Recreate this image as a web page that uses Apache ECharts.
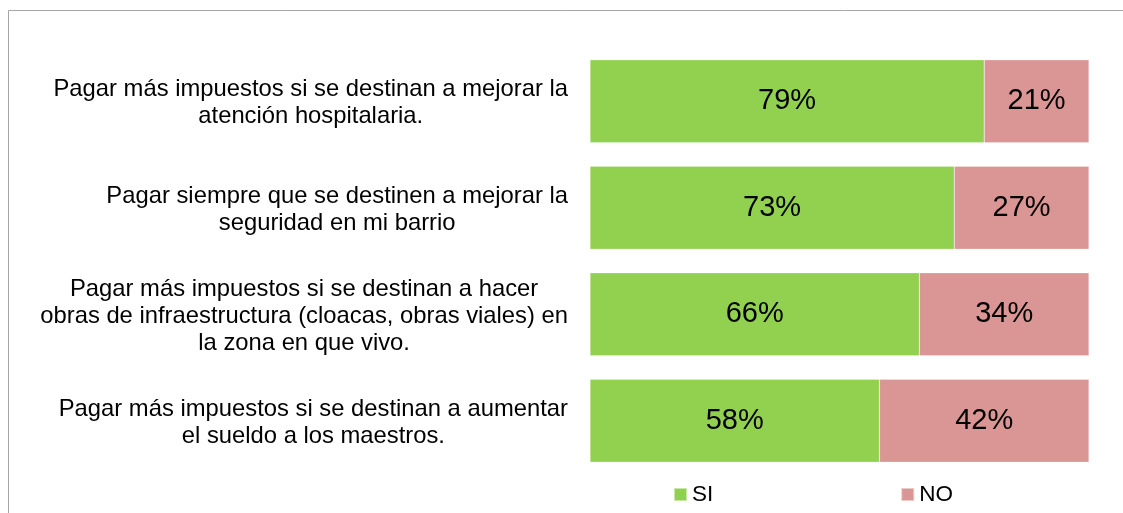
<!DOCTYPE html>
<html>
<head>
<meta charset="utf-8">
<script src="https://cdn.jsdelivr.net/npm/echarts@6/dist/echarts.min.js"></script>
<style>
  html, body { margin: 0; padding: 0; background: #fff; }
  #chart { width: 1123px; height: 513px; }
</style>
</head>
<body>
<div id="chart"></div>
<script>
var categories = [
  ['Pagar más impuestos si se destinan a mejorar la', 'atención hospitalaria.'],
  ['Pagar siempre que se destinen a mejorar la', 'seguridad en mi barrio'],
  ['Pagar más impuestos si se destinan a hacer', 'obras de infraestructura (cloacas, obras viales) en', 'la zona en que vivo.'],
  ['Pagar más impuestos si se destinan a aumentar', 'el sueldo a los maestros.']
];
var siValues = [79, 73, 66, 58];
var noValues = [21, 27, 34, 42];

var font = "'Liberation Sans', Arial, sans-serif";
var chart = echarts.init(document.getElementById('chart'));

var option = {
  animation: false,
  textStyle: { fontFamily: font },
  grid: { left: 590, right: 34, top: 48, bottom: 39 },
  xAxis: {
    type: 'value',
    min: 0,
    max: 100,
    show: false
  },
  yAxis: {
    type: 'category',
    inverse: true,
    data: categories.map(function (c) { return c.join('\n'); }),
    axisLine: { show: false },
    axisTick: { show: false },
    axisLabel: {
      margin: 22,
      align: 'right',
      padding: [4, 0, 0, 0],
      formatter: function (v) {
        return v.split('\n').map(function (s) { return '{c|' + s + '}'; }).join('\n');
      },
      rich: {
        c: { align: 'center', fontSize: 23.8, lineHeight: 27, color: '#000', fontFamily: font }
      }
    }
  },
  legend: {
    left: 668,
    top: 478,
    itemWidth: 13,
    itemHeight: 13,
    itemGap: 187,
    icon: 'rect',
    textStyle: { fontSize: 22.5, color: '#000', fontFamily: font },
    data: ['SI', 'NO']
  },
  series: [
    {
      name: 'SI',
      type: 'bar',
      stack: 'total',
      barCategoryGap: '22%',
      data: siValues,
      itemStyle: { color: '#92D050', borderColor: 'rgba(255,255,255,0.5)', borderWidth: 0.5 },
      label: {
        show: true,
        position: 'inside',
        formatter: '{c}%',
        fontSize: 29,
        color: '#000',
        fontFamily: font
      }
    },
    {
      name: 'NO',
      type: 'bar',
      stack: 'total',
      data: noValues,
      itemStyle: { color: '#DA9694', borderColor: 'rgba(255,255,255,0.5)', borderWidth: 0.5 },
      label: {
        show: true,
        position: 'inside',
        formatter: '{c}%',
        fontSize: 29,
        color: '#000',
        fontFamily: font
      }
    }
  ],
  graphic: [
    { type: 'line', shape: { x1: 8.5, y1: 10.5, x2: 1123, y2: 10.5 }, style: { stroke: '#a6a6a6', lineWidth: 1 } },
    { type: 'line', shape: { x1: 8.5, y1: 10.5, x2: 8.5, y2: 513 }, style: { stroke: '#a6a6a6', lineWidth: 1 } }
  ]
};
option && chart.setOption(option);
</script>
</body>
</html>
